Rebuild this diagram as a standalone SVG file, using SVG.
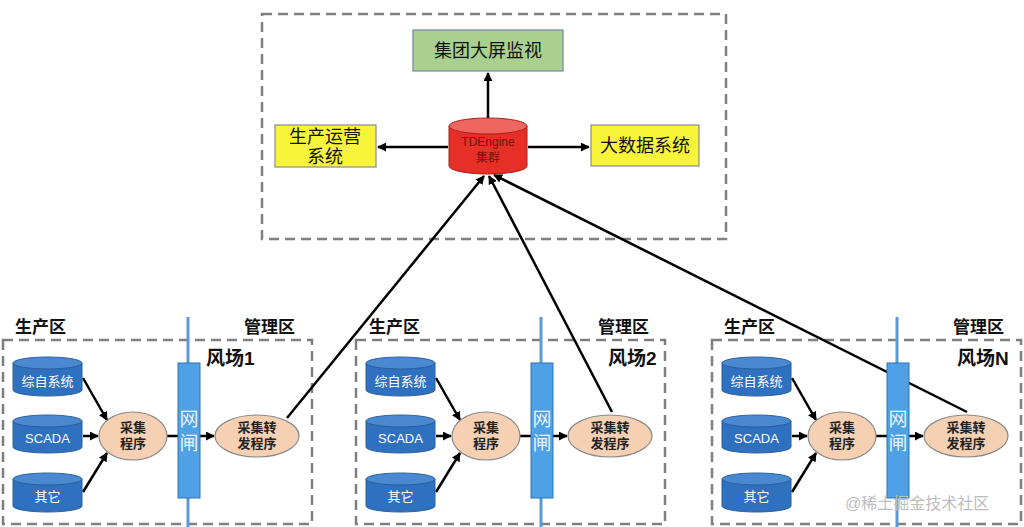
<svg xmlns="http://www.w3.org/2000/svg" width="1024" height="527" viewBox="0 0 1024 527">
<defs>
<marker id="ah" viewBox="0 0 10 10" refX="9" refY="5" markerWidth="9" markerHeight="9" markerUnits="userSpaceOnUse" orient="auto"><path d="M0,0 L10,5 L0,10 z" fill="#000"/></marker>
<style>
text{font-family:"Liberation Sans","Noto Sans CJK SC",sans-serif;}
.dash{fill:none;stroke:#7f7f7f;stroke-width:2.5;stroke-dasharray:10 6;}
.conn{stroke:#000;stroke-width:2.5;fill:none;}
.arr{marker-end:url(#ah);}
.zone{font-size:17px;font-weight:bold;fill:#111;}
.farm{font-size:19px;font-weight:bold;fill:#111;}
.cylb{fill:#2f70bf;stroke:#2a5f9f;stroke-width:1;}
.cylt{fill:#4a88d0;stroke:#2a5f9f;stroke-width:1;}
.ct{font-size:13px;fill:#fff;text-anchor:middle;}
.ell{fill:#f6d0b2;stroke:#8a8a8a;stroke-width:1.2;}
.et{font-size:13px;font-weight:bold;fill:#222;text-anchor:middle;}
.gl{stroke:#5b9bd5;stroke-width:3;}
.gr{fill:#4ea1e4;stroke:#2f75b5;stroke-width:1;}
.gt{font-size:19px;fill:#e8f2ff;text-anchor:middle;}
.bt{font-size:18px;fill:#111;text-anchor:middle;}
</style>
</defs>
<rect width="1024" height="527" fill="#fff"/>
<rect class="dash" x="262" y="14" width="464" height="225"/>
<rect class="dash" x="3" y="340" width="309" height="184"/>
<rect class="dash" x="356" y="340" width="309" height="184"/>
<rect class="dash" x="712" y="340" width="309" height="184"/>

<g id="zone-labels">
<text class="zone" x="15" y="333">生产区</text><text class="zone" x="244" y="333">管理区</text><text class="farm" x="206" y="365">风场1</text>
<text class="zone" x="369" y="333">生产区</text><text class="zone" x="598" y="333">管理区</text><text class="farm" x="608" y="365">风场2</text>
<text class="zone" x="724" y="333">生产区</text><text class="zone" x="953" y="333">管理区</text><text class="farm" x="957" y="365">风场N</text>
</g>

<g id="connectors">
<line class="conn arr" x1="488" y1="118" x2="488" y2="73"/>
<line class="conn arr" x1="448" y1="147" x2="378" y2="147"/>
<line class="conn arr" x1="528" y1="147" x2="589" y2="147"/>
<line class="conn arr" x1="287" y1="418" x2="484" y2="176"/>
<line class="conn arr" x1="612" y1="412" x2="489" y2="176"/>
<line class="conn arr" x1="967" y1="412" x2="494" y2="175"/>
<g id="farm1-conn">
<line class="conn arr" x1="83" y1="378" x2="107" y2="420"/>
<line class="conn arr" x1="83" y1="436" x2="98" y2="436"/>
<line class="conn arr" x1="83" y1="492" x2="107" y2="453"/>
<line class="conn arr" x1="167" y1="436" x2="214" y2="436"/>
</g>
<use href="#farm1-conn" x="353"/>
<use href="#farm1-conn" x="709"/>
</g>

<g id="top-nodes">
<g id="screen"><rect x="413" y="30" width="150" height="41" fill="#a9d08e" stroke="#6d8aa0" stroke-width="1.2"/><text class="bt" x="488" y="57">集团大屏监视</text></g>
<g id="ops"><rect x="275" y="125" width="101" height="42" fill="#f7f43a" stroke="#8a8a8a" stroke-width="1.2"/><text class="bt" x="325" y="143">生产运营</text><text class="bt" x="325" y="163">系统</text></g>
<g id="bigdata"><rect x="591" y="125" width="108" height="41" fill="#f7f43a" stroke="#8a8a8a" stroke-width="1.2"/><text class="bt" x="645" y="152">大数据系统</text></g>
<g id="tdengine">
<path d="M449,126 L449,166 A39,8 0 0 0 527,166 L527,126 Z" fill="#e52f27" stroke="#a8211b" stroke-width="1"/>
<ellipse cx="488" cy="126" rx="39" ry="8" fill="#ef6560" stroke="#a8211b" stroke-width="1"/>
<text x="488" y="146" font-size="12" fill="#7a0f0b" text-anchor="middle">TDEngine</text>
<text x="488" y="162" font-size="12" fill="#7a0f0b" text-anchor="middle">集群</text>
</g>
</g>

<g id="farm1">
<line class="gl" x1="188" y1="317" x2="188" y2="527"/>
<g id="f1-src1"><path class="cylb" d="M13,363 L13,390 A34.5,6 0 0 0 82,390 L82,363 Z"/><ellipse class="cylt" cx="47.5" cy="363" rx="34.5" ry="6"/><text class="ct" x="47.5" y="386">综自系统</text></g>
<g id="f1-src2"><path class="cylb" d="M13,421 L13,447 A34.5,6 0 0 0 82,447 L82,421 Z"/><ellipse class="cylt" cx="47.5" cy="421" rx="34.5" ry="6"/><text class="ct" x="47.5" y="443">SCADA</text></g>
<g id="f1-src3"><path class="cylb" d="M13,479 L13,506 A34.5,6 0 0 0 82,506 L82,479 Z"/><ellipse class="cylt" cx="47.5" cy="479" rx="34.5" ry="6"/><text class="ct" x="47.5" y="501">其它</text></g>
<g id="f1-collect"><ellipse class="ell" cx="133" cy="436" rx="34" ry="24"/><text class="et" x="133" y="432">采集</text><text class="et" x="133" y="448">程序</text></g>
<g id="f1-gate"><rect class="gr" x="178" y="363" width="22" height="135"/><text class="gt" x="189" y="426">网</text><text class="gt" x="189" y="450">闸</text></g>
<g id="f1-fwd"><ellipse class="ell" cx="257" cy="436" rx="42" ry="21"/><text class="et" x="257" y="432">采集转</text><text class="et" x="257" y="448">发程序</text></g>
</g>
<use id="farm2" href="#farm1" x="353"/>
<use id="farmN" href="#farm1" x="709"/>

<text x="845" y="509" font-size="16" fill="#bdbdbd">@稀土掘金技术社区</text>
</svg>
